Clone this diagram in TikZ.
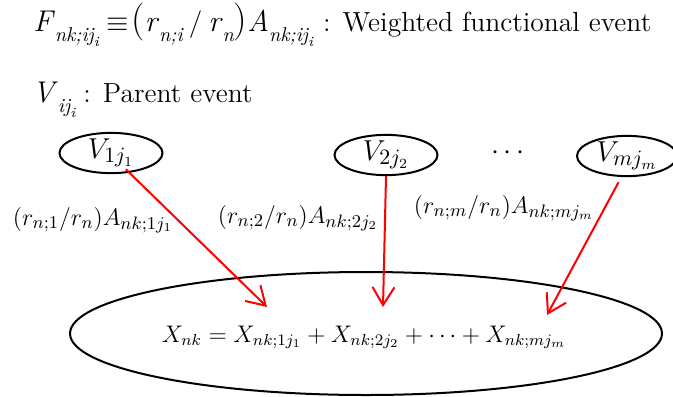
\documentclass[tikz,border=0pt]{standalone}
\usetikzlibrary{shapes.geometric,arrows.meta}

% lowered italic subscripts for the legend
\newcommand{\lsub}[1]{\raisebox{-5pt}{\fontsize{10}{12}\selectfont\itshape #1}}
\newcommand{\llsub}[1]{\raisebox{-2.5pt}{\fontsize{7}{9}\selectfont\itshape #1}}

\begin{document}
\begin{tikzpicture}[x=0.5pt,y=-0.5pt,
        event/.style={ellipse, draw, line width=1pt, inner sep=0pt},
        flow/.style={red, line width=1pt, -{Straight Barb[length=9pt,width=11pt,line width=1pt]}},
        vfont/.style={font=\fontsize{15}{17}\selectfont},
        wfont/.style={font=\fontsize{13}{15}\selectfont},
        xfont/.style={font=\fontsize{11.8}{14}\selectfont},
        legend/.style={anchor=base west, inner sep=0pt, font=\fontsize{13.8}{17}\selectfont}]

        \useasboundingbox (0,0) rectangle (673,396);

        % Legend lines at the top
        \node[legend] (legF) at (33,32)
            {{\fontsize{15}{18}\selectfont\textit{F}}\lsub{nk;ij\llsub{i}}\hspace{4pt}$\equiv$\hspace{1pt}{\fontsize{19}{20}\selectfont(}{\fontsize{15}{18}\selectfont\textit{r}}\lsub{n;i}\hspace{3pt}/\hspace{3pt}{\fontsize{15}{18}\selectfont\textit{r}}\lsub{n}{\fontsize{19}{20}\selectfont)}{\fontsize{15}{18}\selectfont\textit{A}}\lsub{nk;ij\llsub{i}}\hspace{5pt}: Weighted functional event};
        \node[legend] (legV) at (32,102)
            {{\fontsize{15}{18}\selectfont\textit{V}}\lsub{ij\llsub{i}}\hspace{4pt}: Parent event};

        % Parent events
        \node[event, vfont, minimum width=51.5pt, minimum height=19.5pt] (V1) at (111,153) {$V_{1j_1}$};
        \node[event, vfont, minimum width=51.5pt, minimum height=19.5pt] (V2) at (386,155) {$V_{2j_2}$};
        \node[vfont] (dots) at (508,153) {$\cdots$};
        \node[event, vfont, minimum width=50pt, minimum height=19pt] (Vm) at (627,156) {$V_{mj_m}$};

        % Weights on the arrows
        \node[wfont, anchor=base] (w1) at (93,225) {$(r_{n;1}/r_n)A_{nk;1j_1}$};
        \node[wfont, anchor=base] (w2) at (298,223) {$(r_{n;2}/r_n)A_{nk;2j_2}$};
        \node[wfont, anchor=base] (wm) at (504,213) {$(r_{n;m}/r_n)A_{nk;mj_m}$};

        % Functional event
        \node[event, minimum width=296pt, minimum height=61.5pt] (X) at (366,333.5) {};
        \node[xfont, anchor=base] (Xsum) at (364,342) {$X_{nk}=X_{nk;1j_1}+X_{nk;2j_2}+\cdots+X_{nk;mj_m}$};

        \coordinate (t1) at (267,307);
        \coordinate (t2) at (383,307);
        \coordinate (tm) at (547,315);

        \draw[flow, shorten <=-2.5pt] (V1.-47) -- (t1);
        \draw[flow] (V2.south) -- (t2);
        \draw[flow, shorten <=3pt] (Vm.-105) -- (tm);
\end{tikzpicture}
\end{document}
